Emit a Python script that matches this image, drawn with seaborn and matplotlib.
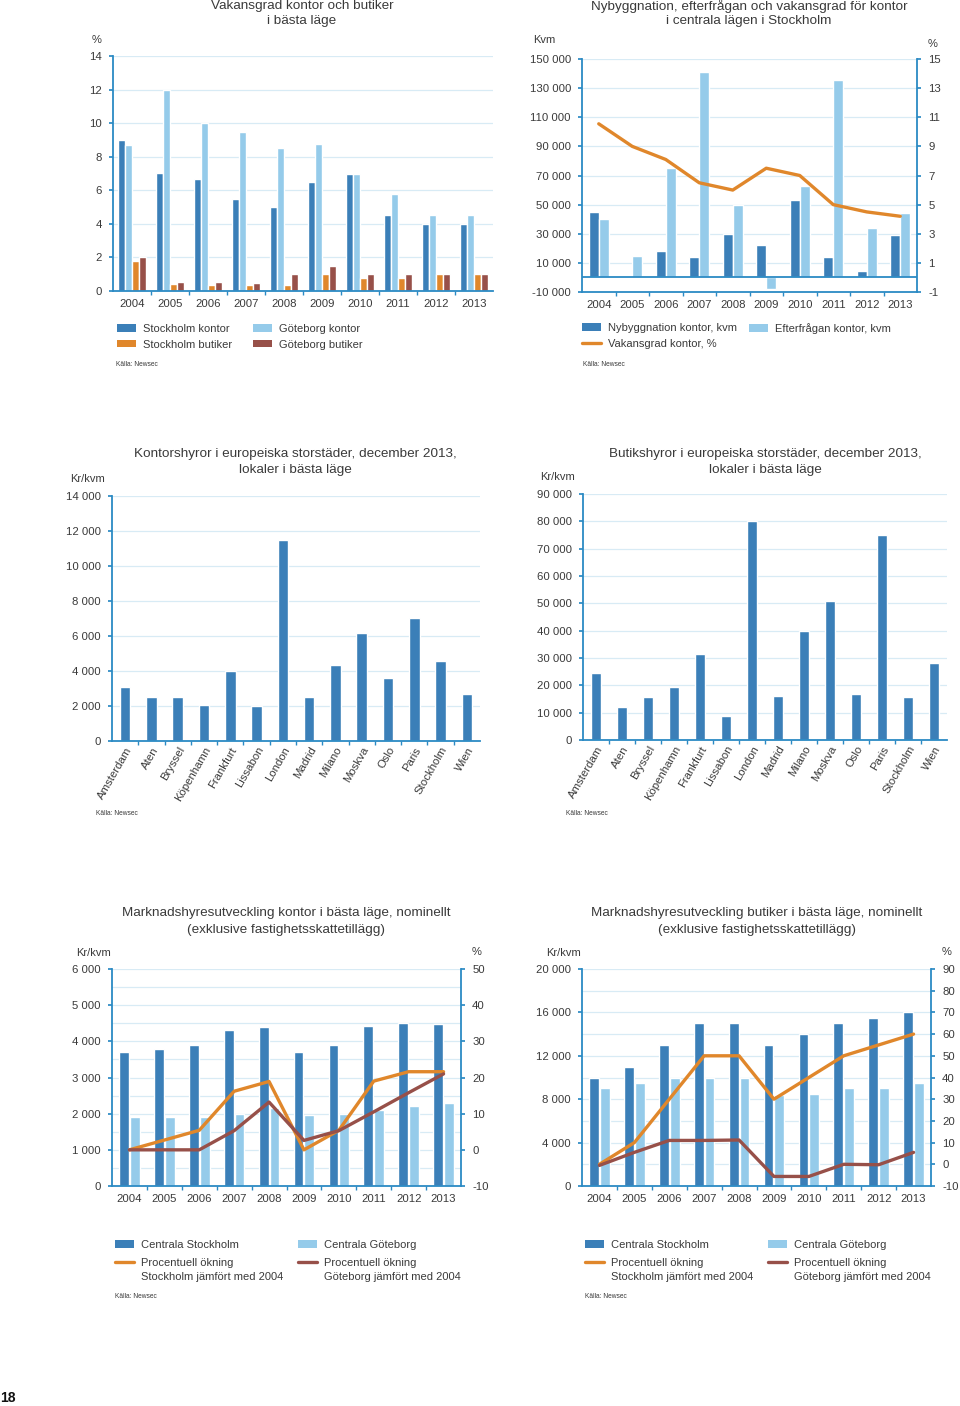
import numpy as np
import pandas as pd
import seaborn as sns
import matplotlib.pyplot as plt
from matplotlib.patches import Patch
from matplotlib.lines import Line2D
from matplotlib.ticker import FuncFormatter, FixedLocator

sns.set_theme(style='white')
plt.rcParams['font.family'] = ['Liberation Sans', 'DejaVu Sans']
plt.rcParams['axes.unicode_minus'] = False

DARK = '#3b7fb8'
LIGHT = '#95cbea'
ORANGE = '#e0872b'
BROWN = '#975049'
AXIS = '#2b8ac4'
GRID = '#d8ebf5'
TXT = '#3a3a3a'

# --- data ---
years = [str(y) for y in range(2004, 2014)]

# Vakansgrad kontor och butiker (%)
vac_sthlm_kontor = [9.0, 7.05, 6.7, 5.5, 5.0, 6.5, 7.0, 4.5, 4.0, 4.0]
vac_gbg_kontor = [8.7, 12.0, 10.0, 9.5, 8.5, 8.75, 7.0, 5.8, 4.5, 4.5]
vac_sthlm_butik = [1.8, 0.44, 0.36, 0.34, 0.36, 1.0, 0.8, 0.8, 1.0, 1.0]
vac_gbg_butik = [2.0, 0.53, 0.53, 0.5, 1.0, 1.5, 1.0, 1.0, 1.0, 1.0]

# Nybyggnation / efterfrågan (kvm) och vakansgrad (%)
nybyggnation = [45000, 0, 18000, 14000, 30000, 22000, 53000, 14000, 4500, 29000]
efterfragan = [40000, 15000, 75000, 141000, 50000, -8000, 63000, 135500, 34000, 44000]
vakansgrad = [10.55, 9.0, 8.1, 6.5, 6.0, 7.5, 7.0, 5.0, 4.5, 4.2]

# Hyror i europeiska storstäder (kr/kvm)
cities = ['Amsterdam', 'Aten', 'Bryssel', 'Köpenhamn', 'Frankfurt', 'Lissabon', 'London',
          'Madrid', 'Milano', 'Moskva', 'Oslo', 'Paris', 'Stockholm', 'Wien']
kontorshyror = [3100, 2500, 2500, 2050, 4000, 2000, 11500, 2500, 4350, 6150, 3600, 7000, 4550, 2700]
butikshyror = [24500, 12000, 15800, 19400, 31600, 8800, 80000, 16000, 40000, 51000, 17000, 75000, 15900, 28000]

# Marknadshyresutveckling kontor
kontor_sthlm = [3700, 3800, 3900, 4300, 4400, 3700, 3900, 4420, 4500, 4480]
kontor_gbg = [1900, 1900, 1900, 2000, 2150, 1950, 2000, 2100, 2200, 2300]
kontor_sthlm_pct = [0, 2.7, 5.4, 16.2, 18.9, 0, 5.4, 19.0, 21.6, 21.6]
kontor_gbg_pct = [0, 0, 0, 5.3, 13.2, 2.6, 5.3, 10.5, 15.8, 21.0]

# Marknadshyresutveckling butiker
butik_sthlm = [10000, 11000, 13000, 15000, 15000, 13000, 14000, 15000, 15500, 16000]
butik_gbg = [9000, 9500, 10000, 10000, 10000, 8400, 8500, 9000, 9000, 9500]
butik_sthlm_pct = [0, 10, 30, 50, 50, 30, 40, 50, 55, 60]
butik_gbg_pct = [-0.5, 5.5, 11, 11, 11.2, -5.6, -5.6, 0, -0.2, 5.5]

W, H = 960, 1406
fig = plt.figure(figsize=(W / 100, H / 100), dpi=100)


def add_ax(l, t, r, b):
    return fig.add_axes([l / W, 1 - b / H, (r - l) / W, (b - t) / H])


def space_fmt(v, pos):
    return f'{v:,.0f}'.replace(',', ' ')


def ftxt(x, y, s, **kw):
    kw.setdefault('color', TXT)
    kw.setdefault('fontsize', 9.7)
    fig.text(x / W, 1 - y / H, s, **kw)


def style(ax, n, ymin, ymax, ystep, grid_step=None, fmt=None):
    ax.set_xlim(-0.5, n - 0.5)
    ax.set_ylim(ymin, ymax)
    ax.set_xlabel('')
    ax.set_ylabel('')
    ax.yaxis.set_major_locator(FixedLocator(np.arange(ymin, ymax + ystep / 2, ystep)))
    gs = grid_step or ystep
    ax.yaxis.set_minor_locator(FixedLocator(np.arange(ymin, ymax + gs / 2, gs)))
    ax.grid(False)
    ax.grid(axis='y', which='both', color=GRID, lw=0.9)
    ax.set_axisbelow(True)
    if fmt:
        ax.yaxis.set_major_formatter(FuncFormatter(fmt))
    for s in ['top', 'right']:
        ax.spines[s].set_visible(False)
    for s in ['left', 'bottom']:
        ax.spines[s].set_color(AXIS)
        ax.spines[s].set_linewidth(1.3)
    ax.xaxis.set_minor_locator(FixedLocator(np.arange(0.5, n - 0.5, 1)))
    ax.tick_params(axis='y', which='major', left=True, length=3, color=AXIS,
                   labelsize=8.2, labelcolor=TXT, pad=5)
    ax.tick_params(axis='y', which='minor', length=0)
    ax.tick_params(axis='x', which='major', length=0, labelsize=8.2, labelcolor=TXT, pad=6)
    ax.tick_params(axis='x', which='minor', bottom=True, length=3, color=AXIS)


def style_right(ax2, ymin, ymax, ystep):
    ax2.set_ylim(ymin, ymax)
    ax2.set_ylabel('')
    ax2.yaxis.set_major_locator(FixedLocator(np.arange(ymin, ymax + ystep / 2, ystep)))
    ax2.grid(False)
    for s in ['top', 'left', 'bottom']:
        ax2.spines[s].set_visible(False)
    ax2.spines['right'].set_color(AXIS)
    ax2.spines['right'].set_linewidth(1.3)
    ax2.tick_params(axis='y', right=True, length=3, color=AXIS, labelsize=8.2,
                    labelcolor=TXT, pad=5)


def legend_col(handles, labels, x, y, spacing=0.5):
    fig.legend(handles, labels, loc='upper left', bbox_to_anchor=(x / W, 1 - y / H),
               frameon=False, fontsize=8, labelcolor=TXT, handlelength=1.75,
               handleheight=0.65, handletextpad=0.55, labelspacing=spacing,
               borderpad=0, borderaxespad=0)


def patch(c):
    return Patch(facecolor=c, edgecolor='none')


def line(c):
    return Line2D([], [], color=c, lw=2.4)


# ---------- Panel 1: Vakansgrad ----------
ax = add_ax(113, 56, 493, 291)
names1 = ['Stockholm kontor', 'Göteborg kontor', 'Stockholm butiker', 'Göteborg butiker']
df1 = pd.DataFrame({'år': years, names1[0]: vac_sthlm_kontor, names1[1]: vac_gbg_kontor,
                    names1[2]: vac_sthlm_butik, names1[3]: vac_gbg_butik})
df1 = df1.melt(id_vars='år', var_name='serie', value_name='värde')
sns.barplot(data=df1, x='år', y='värde', hue='serie', hue_order=names1, order=years,
            palette=[DARK, LIGHT, ORANGE, BROWN], width=0.72, saturation=1,
            legend=False, ax=ax)
style(ax, len(years), 0, 14, 2)
ftxt(302, 6, 'Vakansgrad kontor och butiker', ha='center', va='center')
ftxt(302, 21, 'i bästa läge', ha='center', va='center')
ftxt(92, 40, '%', fontsize=8, va='center')
legend_col([patch(DARK), patch(ORANGE)], [names1[0], names1[2]], 117, 324)
legend_col([patch(LIGHT), patch(BROWN)], [names1[1], names1[3]], 253, 324)
ftxt(116, 365, 'Källa: Newsec', fontsize=4.8, va='center')

# ---------- Panel 2: Nybyggnation ----------
ax = add_ax(582, 59, 917, 292)
names2 = ['Nybyggnation kontor, kvm', 'Efterfrågan kontor, kvm']
df2 = pd.DataFrame({'år': years, names2[0]: nybyggnation, names2[1]: efterfragan})
df2 = df2.melt(id_vars='år', var_name='serie', value_name='kvm')
sns.barplot(data=df2, x='år', y='kvm', hue='serie', hue_order=names2, order=years,
            palette=[DARK, LIGHT], width=0.6, saturation=1, legend=False, ax=ax)
style(ax, len(years), -10000, 150000, 20000, fmt=space_fmt)
ax.axhline(0, color=AXIS, lw=1.3, zorder=3)
ax2 = ax.twinx()
sns.lineplot(x=np.arange(len(years)), y=vakansgrad, color=ORANGE, lw=2.4, ax=ax2)
style_right(ax2, -1, 15, 2)
ax.set_xlim(-0.5, len(years) - 0.5)
ftxt(749, 6, 'Nybyggnation, efterfrågan och vakansgrad för kontor', ha='center', va='center')
ftxt(749, 21, 'i centrala lägen i Stockholm', ha='center', va='center')
ftxt(533, 40, 'Kvm', fontsize=8, va='center')
ftxt(928, 44, '%', fontsize=8, va='center')
legend_col([patch(DARK), line(ORANGE)], [names2[0], 'Vakansgrad kontor, %'], 582, 323)
legend_col([patch(LIGHT)], [names2[1]], 749, 323)
ftxt(583, 364, 'Källa: Newsec', fontsize=4.8, va='center')

# ---------- Panel 3: Kontorshyror ----------
ax = add_ax(112, 496, 480, 741)
sns.barplot(x=cities, y=kontorshyror, order=cities, color=DARK, width=0.4,
            saturation=1, ax=ax)
style(ax, len(cities), 0, 14000, 2000, fmt=space_fmt)
ax.tick_params(axis='x', which='major', pad=3)
plt.setp(ax.get_xticklabels(), rotation=60, ha='right', rotation_mode='anchor', fontsize=8.2)
ftxt(295, 454, 'Kontorshyror i europeiska storstäder, december 2013,', ha='center', va='center')
ftxt(295, 470, 'lokaler i bästa läge', ha='center', va='center')
ftxt(70, 479, 'Kr/kvm', fontsize=8, va='center')
ftxt(96, 813, 'Källa: Newsec', fontsize=4.8, va='center')

# ---------- Panel 4: Butikshyror ----------
ax = add_ax(583, 494, 947, 740)
sns.barplot(x=cities, y=butikshyror, order=cities, color=DARK, width=0.41,
            saturation=1, ax=ax)
style(ax, len(cities), 0, 90000, 10000, fmt=space_fmt)
ax.tick_params(axis='x', which='major', pad=3)
plt.setp(ax.get_xticklabels(), rotation=60, ha='right', rotation_mode='anchor', fontsize=8.2)
ftxt(765, 454, 'Butikshyror i europeiska storstäder, december 2013,', ha='center', va='center')
ftxt(765, 470, 'lokaler i bästa läge', ha='center', va='center')
ftxt(540, 477, 'Kr/kvm', fontsize=8, va='center')
ftxt(566, 813, 'Källa: Newsec', fontsize=4.8, va='center')

# ---------- Panels 5 & 6: Marknadshyresutveckling ----------
names3 = ['Centrala Stockholm', 'Centrala Göteborg']
pct_second = ['Stockholm jämfört med 2004', 'Göteborg jämfört med 2004']


def hyres_panel(l, r, sthlm, gbg, sthlm_pct, gbg_pct, ymax, ystep, grid_step,
                pmin, pmax, pstep, title, cx):
    ax = add_ax(l, 969, r, 1186)
    df = pd.DataFrame({'år': years, names3[0]: sthlm, names3[1]: gbg})
    df = df.melt(id_vars='år', var_name='serie', value_name='kr')
    sns.barplot(data=df, x='år', y='kr', hue='serie', hue_order=names3, order=years,
                palette=[DARK, LIGHT], width=0.62, gap=0.1, saturation=1,
                legend=False, ax=ax)
    style(ax, len(years), 0, ymax, ystep, grid_step=grid_step, fmt=space_fmt)
    ax2 = ax.twinx()
    xs = np.arange(len(years))
    sns.lineplot(x=xs, y=sthlm_pct, color=ORANGE, lw=2.4, ax=ax2)
    sns.lineplot(x=xs, y=gbg_pct, color=BROWN, lw=2.4, ax=ax2)
    style_right(ax2, pmin, pmax, pstep)
    ax.set_xlim(-0.5, len(years) - 0.5)
    ftxt(cx, 913, title, ha='center', va='center')
    ftxt(cx, 930, '(exklusive fastighetsskattetillägg)', ha='center', va='center')
    ftxt(l - 36, 953, 'Kr/kvm', fontsize=8, va='center')
    ftxt(r + 11, 952, '%', fontsize=8, va='center')
    legend_col([patch(DARK), line(ORANGE)], [names3[0], 'Procentuell ökning'],
               l + 3, 1240, spacing=0.72)
    legend_col([patch(LIGHT), line(BROWN)], [names3[1], 'Procentuell ökning'],
               l + 186, 1240, spacing=0.72)
    ftxt(l + 29, 1277, pct_second[0], fontsize=8, va='center')
    ftxt(l + 212, 1277, pct_second[1], fontsize=8, va='center')
    ftxt(l + 3, 1297, 'Källa: Newsec', fontsize=4.8, va='center')


hyres_panel(112, 461, kontor_sthlm, kontor_gbg, kontor_sthlm_pct, kontor_gbg_pct,
            6000, 1000, 500, -10, 50, 10,
            'Marknadshyresutveckling kontor i bästa läge, nominellt', 286)
hyres_panel(582, 931, butik_sthlm, butik_gbg, butik_sthlm_pct, butik_gbg_pct,
            20000, 4000, 2000, -10, 90, 10,
            'Marknadshyresutveckling butiker i bästa läge, nominellt', 757)

ftxt(0, 1398, '18', fontsize=10, fontweight='bold', color='#111111', va='center')

fig.savefig('out.png', dpi=100)
